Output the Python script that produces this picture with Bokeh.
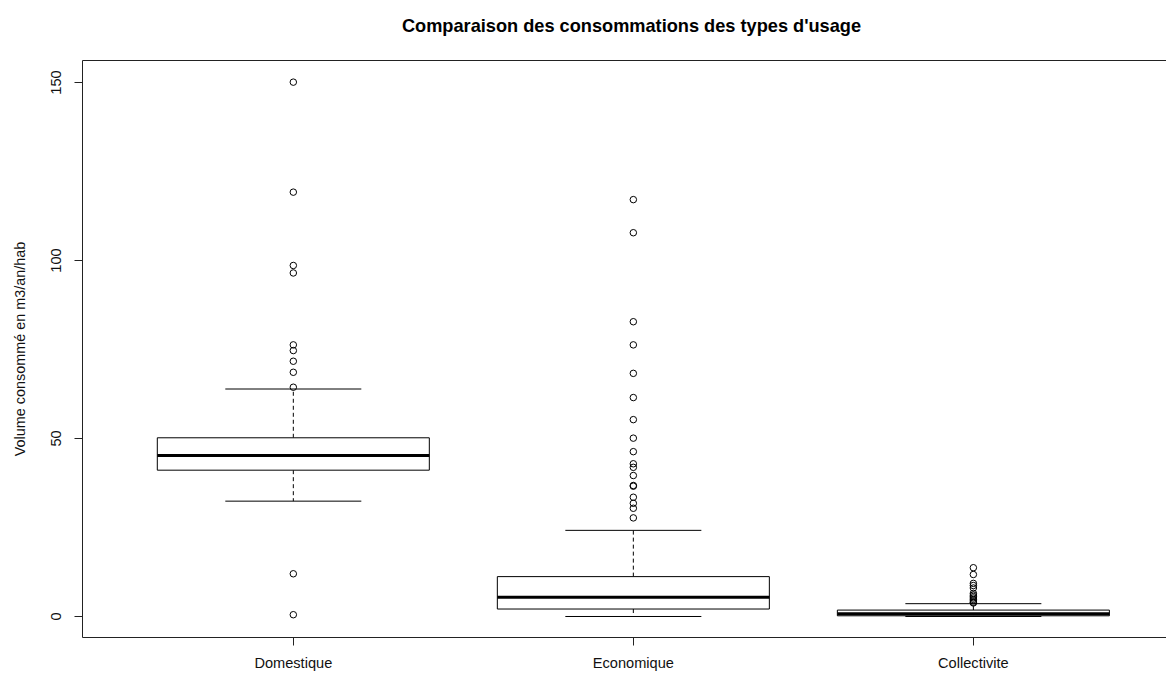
from bokeh.plotting import figure
from bokeh.models import Range1d, FixedTicker, LinearAxis, ColumnDataSource, Label
from bokeh.embed import file_html
from bokeh.resources import INLINE

# ---- data ----
categories = ["Domestique", "Economique", "Collectivite"]
lower_whisker = [32.4, 0.0, 0.0]
q1 = [41.1, 2.1, 0.2]
median = [45.2, 5.4, 0.8]
q3 = [50.2, 11.2, 1.8]
upper_whisker = [63.9, 24.2, 3.6]

outliers_domestique = [150.1, 119.2, 98.6, 96.5, 76.3, 74.7, 71.7, 68.6, 64.4, 12.0, 0.5]
outliers_economique = [117.1, 107.8, 82.8, 76.3, 68.3, 61.5, 55.3, 50.1, 46.3, 42.9,
                       41.9, 39.6, 36.8, 36.6, 33.5, 31.8, 30.4, 27.7]
outliers_collectivite = [13.7, 11.8, 9.3, 8.7, 8.0, 6.5, 6.0, 5.6, 5.2, 4.8, 4.4, 4.0, 3.8]

y_ticks = [0, 50, 100, 150]

title_text = "Comparaison des consommations des types d'usage"
y_label = "Volume consommé en m3/an/hab"

# ---- layout ----
FONT = "Liberation Sans"
BOX_HALF = 0.4
CAP_HALF = 0.2

p = figure(width=1166, height=673,
           x_range=Range1d(0.38, 3.568), y_range=Range1d(-5.9, 156.18),
           output_backend="svg", toolbar_location=None,
           min_border_left=82, min_border_right=0,
           min_border_top=60, min_border_bottom=34,
           x_axis_location=None, y_axis_location=None)
p.outline_line_color = None
p.xgrid.visible = False
p.ygrid.visible = False
p.background_fill_color = "white"
p.border_fill_color = "white"

# axes
xaxis = LinearAxis(ticker=FixedTicker(ticks=[1, 2, 3]),
                   major_label_overrides={i + 1: c for i, c in enumerate(categories)})
yaxis = LinearAxis(ticker=FixedTicker(ticks=y_ticks), axis_label=y_label)
top_axis = LinearAxis(ticker=FixedTicker(ticks=[]), major_label_text_font_size="0px",
                      major_label_standoff=0,
                      major_tick_out=0, major_tick_in=0, minor_tick_out=0, minor_tick_in=0)
for ax in (xaxis, yaxis):
    ax.major_tick_out = 8
    ax.major_tick_in = 0
    ax.minor_tick_out = 0
    ax.minor_tick_in = 0
    ax.axis_line_color = "#222222"
    ax.major_tick_line_color = "#222222"
    ax.major_label_text_font = FONT
    ax.major_label_text_font_size = "14.6px"
    ax.major_label_text_color = "#111111"
top_axis.axis_line_color = "#222222"
xaxis.major_label_standoff = 9
yaxis.major_label_standoff = 13
yaxis.major_label_orientation = "vertical"
yaxis.axis_label_text_font = FONT
yaxis.axis_label_text_font_size = "14.4px"
yaxis.axis_label_text_font_style = "normal"
yaxis.axis_label_text_color = "#111111"
yaxis.axis_label_standoff = 21
p.add_layout(xaxis, "below")
p.add_layout(yaxis, "left")
p.add_layout(top_axis, "above")

# title placed in the top panel, centred over the plotting region
title = Label(x=549, y=35, x_units="screen", y_units="screen", text=title_text,
              text_align="center", text_baseline="middle",
              text_font=FONT, text_font_size="18.2px", text_font_style="bold",
              text_color="black")
p.add_layout(title, "above")

# boxes
xs = [i + 1 for i in range(len(categories))]
src = ColumnDataSource(dict(
    x=xs,
    left=[x - BOX_HALF for x in xs], right=[x + BOX_HALF for x in xs],
    cap_l=[x - CAP_HALF for x in xs], cap_r=[x + CAP_HALF for x in xs],
    lw=lower_whisker, q1=q1, med=median, q3=q3, uw=upper_whisker,
))

# dashed whiskers
p.segment(x0="x", y0="q3", x1="x", y1="uw", source=src, line_color="black",
          line_width=1, line_dash="4 3")
p.segment(x0="x", y0="q1", x1="x", y1="lw", source=src, line_color="black",
          line_width=1, line_dash="4 3")
# caps
p.segment(x0="cap_l", y0="uw", x1="cap_r", y1="uw", source=src, line_color="black", line_width=1)
p.segment(x0="cap_l", y0="lw", x1="cap_r", y1="lw", source=src, line_color="black", line_width=1)
# boxes
p.quad(left="left", right="right", bottom="q1", top="q3", source=src,
       fill_color="white", line_color="black", line_width=1)
# medians
p.segment(x0="left", y0="med", x1="right", y1="med", source=src, line_color="black", line_width=3)

# outliers
out_x, out_y = [], []
for x, vals in zip(xs, [outliers_domestique, outliers_economique, outliers_collectivite]):
    out_x += [x] * len(vals)
    out_y += vals
p.scatter(out_x, out_y, marker="circle", size=6.5, fill_color=None,
          line_color="black", line_width=1)

open("out.html", "w").write(file_html(p, INLINE))
